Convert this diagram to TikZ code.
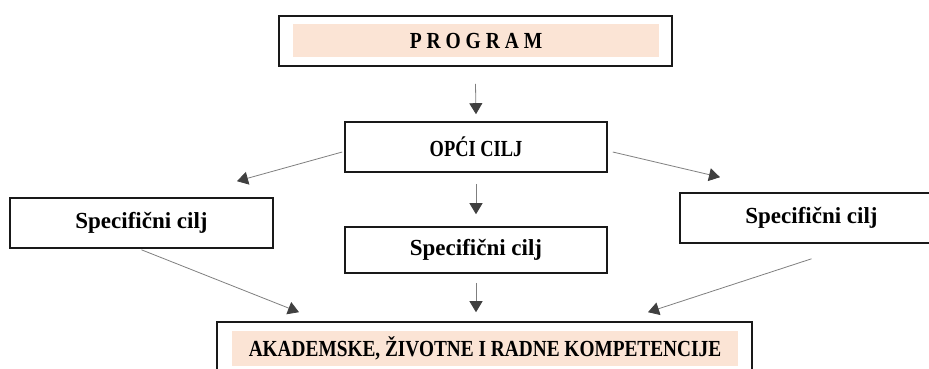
\documentclass[tikz,border=0pt]{standalone}
\usepackage{fontspec}
\setmainfont{Liberation Serif}
\usetikzlibrary{arrows.meta}
\definecolor{peach}{HTML}{FBE4D5}
\definecolor{linegray}{HTML}{7F7F7F}
\definecolor{tipgray}{HTML}{404040}
\newcommand{\Narrow}[2]{\scalebox{#1}[1]{#2}}
\tikzset{
    Frame/.style = {draw=black!90,line width=1.6pt,minimum width=263pt,minimum height=50pt,inner sep=0pt},
    Shade/.style = {fill=peach,inner sep=0pt,font=\fontsize{23}{27}\selectfont\bfseries},
    Goal/.style = {Frame,font=\fontsize{23}{27}\selectfont\bfseries},
    Link/.style = {draw=linegray,line width=0.8pt,-{Triangle[width=13pt,length=11pt,color=tipgray]}}
}

\begin{document}
\begin{tikzpicture}[x=1pt,y=1pt]
        \useasboundingbox (0,0) rectangle (929,-369);
        % top and bottom boxes
        \node[Frame,minimum width=393pt] (P) at (475.5,-41) {};
        \node[Shade,minimum width=366pt,minimum height=33pt] (PT) at (476,-40.5) {\Narrow{0.85}{P R O G R A M}};
        \node[Frame,minimum width=535pt,minimum height=53pt] (K) at (484.5,-348.5) {};
        \node[Shade,minimum width=506pt,minimum height=35pt] (KT) at (485,-348.5) {\Narrow{0.84}{AKADEMSKE, ŽIVOTNE I RADNE KOMPETENCIJE}};
        % goals
        \node[Goal,minimum width=262pt] (O) at (476,-147) {\Narrow{0.8}{OPĆI CILJ}};
        \node[Goal] (SL) at (141.5,-223) {Specifični cilj};
        \node[Goal,minimum width=262pt,minimum height=46pt] (SM) at (476,-250) {Specifični cilj};
        \node[Goal] (SR) at (811.5,-218) {Specifični cilj};
        % arrows
        \draw[Link] ([yshift=-17pt]P.south) -- ([yshift=7pt]O.north);
        \draw[Link] ([xshift=-2pt,yshift=-5pt]O.west) -- ([xshift=95.5pt,yshift=16pt]SL.north);
        \draw[Link] ([xshift=5pt,yshift=-5pt]O.east) -- ([xshift=-91.5pt,yshift=15pt]SR.north);
        \draw[Link] ([yshift=-11pt]O.south) -- ([yshift=12pt]SM.north);
        \draw[Link] ([yshift=-1pt]SL.south) -- ([xshift=-185.5pt,yshift=9pt]K.north);
        \draw[Link] ([yshift=-9pt]SM.south) -- ([xshift=-8.5pt,yshift=9pt]K.north);
        \draw[Link] ([yshift=-15pt]SR.south) -- ([xshift=163.5pt,yshift=9pt]K.north);
\end{tikzpicture}
\end{document}
